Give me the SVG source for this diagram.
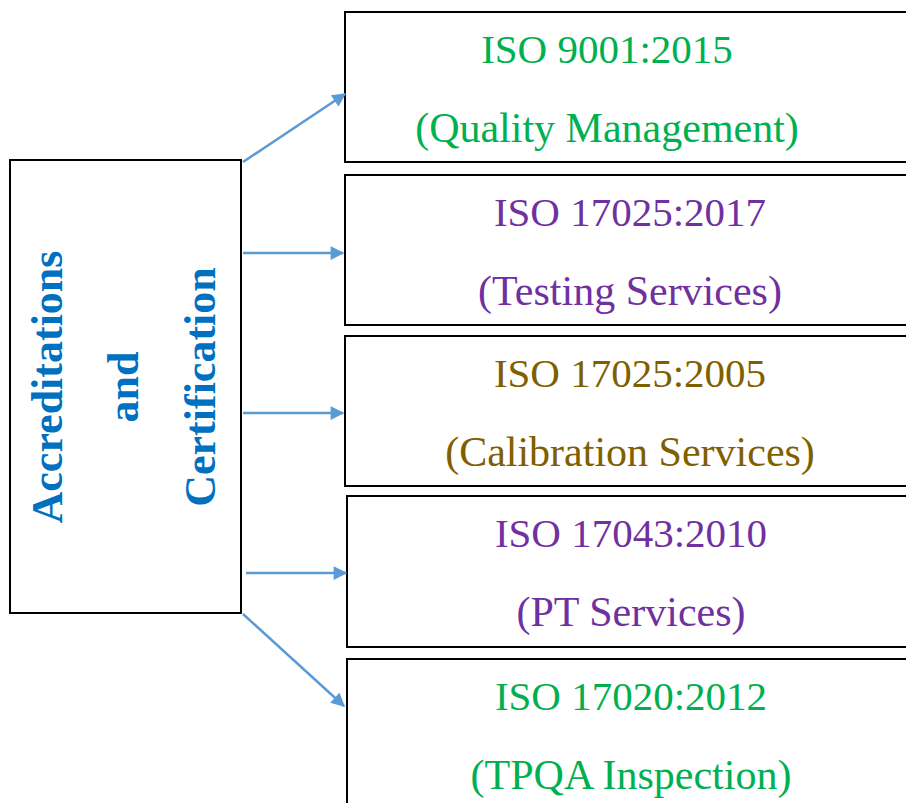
<svg xmlns="http://www.w3.org/2000/svg" width="906" height="803" viewBox="0 0 906 803">
<style>
.box{fill:#fff;stroke:#000;stroke-width:2}
.t{font-family:"Liberation Serif","DejaVu Serif",serif;font-size:41px;text-anchor:middle}
.l2{font-size:42px}
.lt{font-family:"Liberation Serif","DejaVu Serif",serif;font-size:44px;font-weight:bold;fill:#0070C0;text-anchor:middle}
.g{fill:#00B050}.p{fill:#7030A0}.b{fill:#7F6000}
.arr{stroke:#5B9BD5;stroke-width:2.5;fill:none;marker-end:url(#ah)}
</style>
<defs>
<marker id="ah" viewBox="0 0 10 10" refX="9" refY="5" markerWidth="6" markerHeight="5.5" orient="auto" markerUnits="strokeWidth">
<path d="M0,0 L10,5 L0,10 z" fill="#5B9BD5"/>
</marker>
</defs>
<rect width="906" height="803" fill="#fff"/>
<g id="root">
<rect class="box" x="10" y="160" width="231" height="453"/>
<text class="lt" transform="translate(62,387) rotate(-90)">Accreditations</text>
<text class="lt" transform="translate(138,387) rotate(-90)">and</text>
<text class="lt" transform="translate(215,387) rotate(-90)">Certification</text>
</g>
<g id="n1">
<rect class="box" x="345" y="12" width="580" height="150"/>
<text class="t g" x="607" y="63">ISO 9001:2015</text>
<text class="t l2 g" x="607" y="142">(Quality Management)</text>
</g>
<g id="n2">
<rect class="box" x="345" y="175" width="580" height="150"/>
<text class="t p" x="630" y="226">ISO 17025:2017</text>
<text class="t l2 p" x="630" y="305">(Testing Services)</text>
</g>
<g id="n3">
<rect class="box" x="345" y="336" width="580" height="150"/>
<text class="t b" x="630" y="387">ISO 17025:2005</text>
<text class="t l2 b" x="630" y="466">(Calibration Services)</text>
</g>
<g id="n4">
<rect class="box" x="347" y="496" width="580" height="151"/>
<text class="t p" x="631" y="547">ISO 17043:2010</text>
<text class="t l2 p" x="631" y="626">(PT Services)</text>
</g>
<g id="n5">
<rect class="box" x="347" y="659" width="580" height="170"/>
<text class="t g" x="631" y="710">ISO 17020:2012</text>
<text class="t l2 g" x="631" y="789">(TPQA Inspection)</text>
</g>
<g id="connectors">
<line class="arr" x1="243" y1="162" x2="345" y2="94"/>
<line class="arr" x1="243" y1="253" x2="343" y2="253"/>
<line class="arr" x1="243" y1="413" x2="343" y2="413"/>
<line class="arr" x1="246" y1="573" x2="346" y2="573"/>
<line class="arr" x1="243" y1="614" x2="344" y2="706"/>
</g>
</svg>
